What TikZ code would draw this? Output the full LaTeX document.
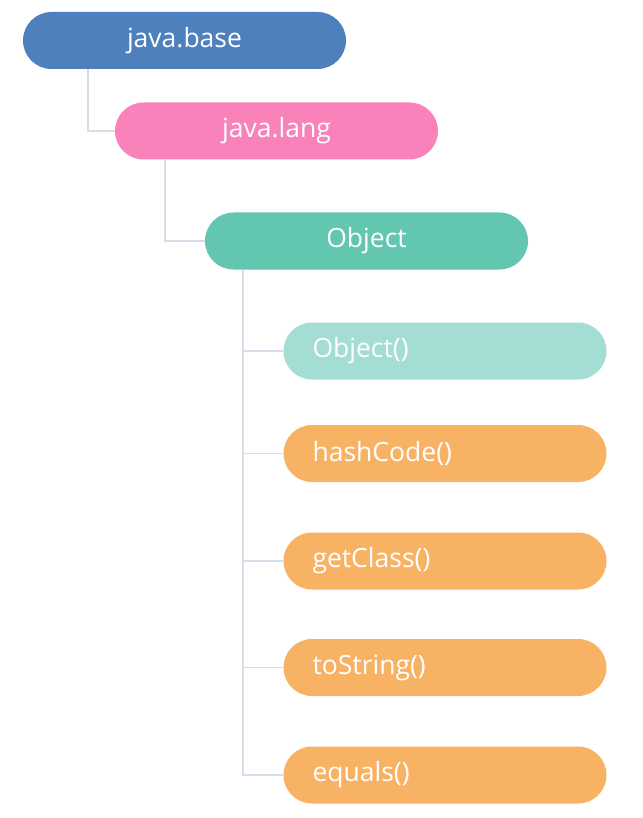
\documentclass[tikz,border=0pt]{standalone}
\usepackage{fontspec}
\setmainfont{Open Sans}
\definecolor{cbase}{HTML}{4F80BE}
\definecolor{clang}{HTML}{F982BA}
\definecolor{cobj}{HTML}{63C6B0}
\definecolor{cctor}{HTML}{A3DDD3}
\definecolor{cmeth}{HTML}{F8B264}
\definecolor{cline}{HTML}{D6DDE8}
\begin{document}
\begin{tikzpicture}[x=1pt,y=-1pt,
  pill/.style={rounded corners=28.5pt, minimum width=323pt, minimum height=57pt, inner sep=0pt, text=white, font=\fontsize{26.5}{30}\selectfont, draw=none},
  leafpill/.style={pill, text width=265pt, align=left, inner xsep=29pt},
  conn/.style={draw=cline, line width=1.6pt}]
\useasboundingbox[fill=white] (0,0) rectangle (642,818);
\node[pill, fill=cbase] (base) at (184.5,40.5) {java.base};
\node[pill, fill=clang] (lang) at (276.5,131) {java.lang};
\node[pill, fill=cobj] (obj) at (366.5,241) {Object};
\node[leafpill, fill=cctor] (ctor) at (445,351) {Object()};
\node[leafpill, fill=cmeth] (hash) at (445,453.5) {hashCode()};
\node[leafpill, fill=cmeth] (getc) at (445,561) {getClass()};
\node[leafpill, fill=cmeth] (tos) at (445,667.5) {toString()};
\node[leafpill, fill=cmeth] (eq) at (445,775) {equals()};
\draw[conn] (base.south -| 88,0) |- (lang.west);
\draw[conn] (lang.south -| 165,0) |- (obj.west);
\draw[conn] (obj.south -| 243,0) |- (eq.west);
\foreach \n in {ctor,hash,getc,tos}{\draw[conn] (\n.west -| 243,0) -- (\n.west);}
\end{tikzpicture}
\end{document}
